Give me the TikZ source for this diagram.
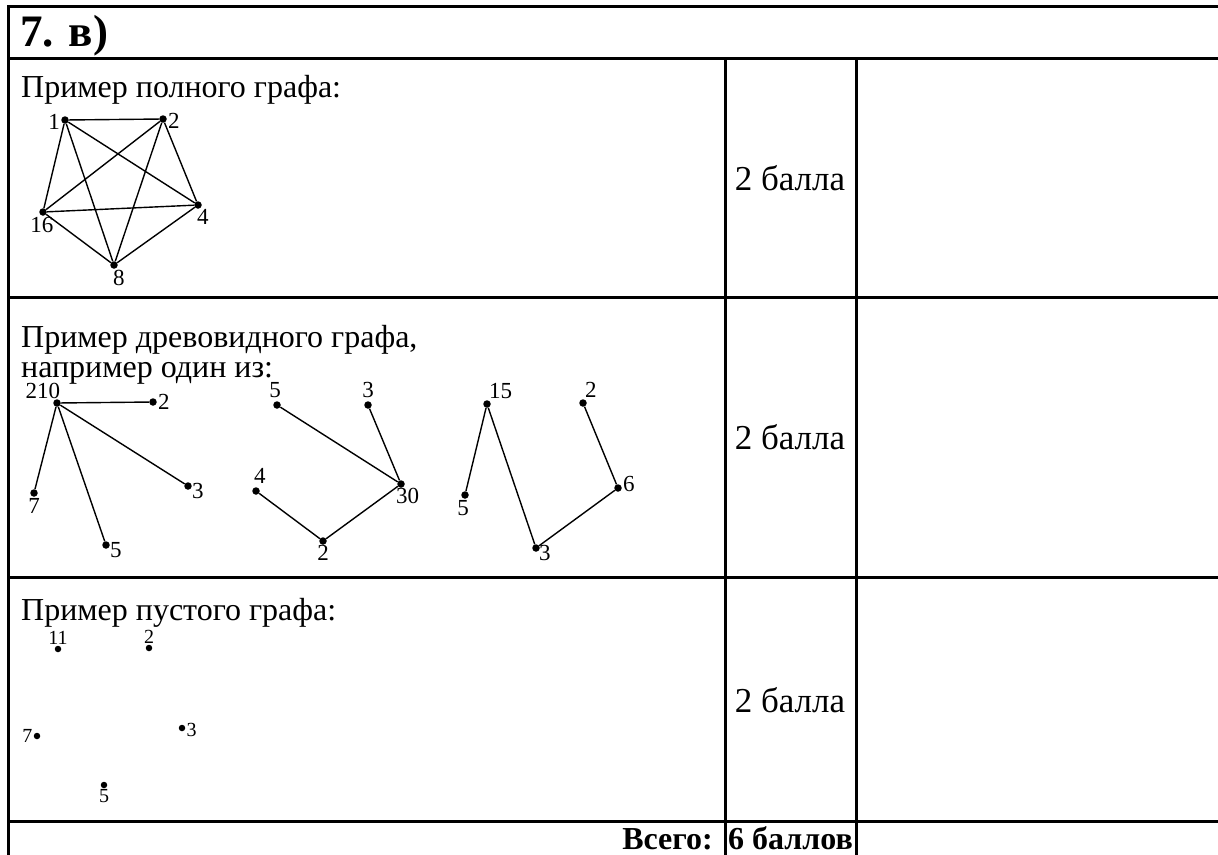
\documentclass[tikz,border=0pt]{standalone}
\usepackage{fontspec}
\setmainfont{Liberation Serif}
\begin{document}
\begin{tikzpicture}[x=1pt,y=-1pt,
  grid/.style={line width=3pt,line cap=rect},
  edge/.style={line width=1.4pt},
  vtx/.style={circle,fill=black,inner sep=0pt,minimum size=7.5pt},
  lbl/.style={font=\fontsize{23}{23}\selectfont,inner sep=1pt},
  slbl/.style={font=\fontsize{20}{20}\selectfont,inner sep=0pt},
  txt/.style={font=\fontsize{32}{32}\selectfont,anchor=base west,inner sep=0pt},
  pts/.style={font=\fontsize{35}{35}\selectfont,anchor=base,inner sep=0pt},
  btxt/.style={font=\fontsize{32}{32}\selectfont\bfseries,anchor=base,inner sep=0pt}]
\useasboundingbox (0,0) rectangle (1218,854);
% table lines
\draw[grid] (8,6) -- (1222,6);
\draw[grid] (8,58) -- (1222,58);
\draw[grid] (8,297) -- (1222,297);
\draw[grid] (8,577) -- (1222,577);
\draw[grid] (8,821) -- (1222,821);
\draw[grid] (8,6) -- (8,858);
\draw[grid] (725,58) -- (725,858);
\draw[grid] (856,58) -- (856,858);
% header
\node[txt,font=\fontsize{45}{45}\selectfont\bfseries] (hdr) at (20,46) {7. в)};
% row 1
\node[txt] (t1) at (21,97) {Пример полного графа:};
\node[pts] (p1) at (790,190) {2 балла};
\node[vtx] (a1) at (65,120) {};
\node[vtx] (a2) at (163,119) {};
\node[vtx] (a4) at (198,205) {};
\node[vtx] (a16) at (43,212) {};
\node[vtx] (a8) at (114,265) {};
\node[lbl,anchor=east] at ([yshift=-2pt]a1.west) {1};
\node[lbl,anchor=west] at ([yshift=-2pt]a2.east) {2};
\node[lbl,anchor=north west] at ([xshift=-2pt,yshift=1pt]a4.south) {4};
\node[lbl,anchor=north] at ([xshift=-1pt]a16.south) {16};
\node[lbl,anchor=north west] at ([xshift=-2pt]a8.south) {8};
\draw[edge] (a1) -- (a2) (a1) -- (a4) (a1) -- (a16) (a1) -- (a8)
  (a2) -- (a16) (a2) -- (a8) (a2) -- (a4)
  (a16) -- (a4) (a16) -- (a8) (a8) -- (a4);
% row 2
\node[txt] (t2) at (21,347) {Пример древовидного графа,};
\node[txt] (t3) at (21,377) {например один из:};
\node[pts] (p2) at (790,449) {2 балла};
% tree 1
\node[vtx] (b210) at (57,403) {};
\node[vtx] (b2) at (153,402) {};
\node[vtx] (b3) at (188,486) {};
\node[vtx] (b7) at (34,493) {};
\node[vtx] (b5) at (106,545) {};
\node[lbl,anchor=south east,inner sep=0pt] at ([xshift=6pt,yshift=1pt]b210.north west) {210};
\node[lbl,anchor=west] at (b2.east) {2};
\node[lbl,anchor=north west] at ([xshift=-1pt,yshift=4pt]b3.east) {3};
\node[lbl,anchor=north] at (b7.south) {7};
\node[lbl,anchor=north west] at ([xshift=-1pt,yshift=4pt]b5.east) {5};
\draw[edge] (b210) -- (b2) (b210) -- (b3) (b210) -- (b7) (b210) -- (b5);
% tree 2
\node[vtx] (c5) at (277,405) {};
\node[vtx] (c3) at (368,405) {};
\node[vtx] (c30) at (401,484) {};
\node[vtx] (c4) at (256,491) {};
\node[vtx] (c2) at (323,541) {};
\node[lbl,anchor=south] at ([xshift=-2pt,yshift=2pt]c5.north) {5};
\node[lbl,anchor=south] at ([yshift=2pt]c3.north) {3};
\node[lbl,anchor=north west] at ([xshift=-6pt,yshift=1pt]c30.south) {30};
\node[lbl,anchor=south west] at ([xshift=-3pt,yshift=2pt]c4.north) {4};
\node[lbl,anchor=north] at ([yshift=1pt]c2.south) {2};
\draw[edge] (c5) -- (c30) (c3) -- (c30) (c30) -- (c2) (c2) -- (c4);
% tree 3
\node[vtx] (d15) at (487,404) {};
\node[vtx] (d5) at (465,495) {};
\node[vtx] (d3) at (536,548) {};
\node[vtx] (d6) at (618,488) {};
\node[vtx] (d2) at (583,403) {};
\node[lbl,anchor=south west] at ([xshift=-3pt,yshift=4pt]d15.east) {15};
\node[lbl,anchor=north] at ([xshift=-2pt]d5.south) {5};
\node[lbl,anchor=north west] at ([xshift=-2pt,yshift=4pt]d3.east) {3};
\node[lbl,anchor=west] at ([yshift=4pt]d6.east) {6};
\node[lbl,anchor=south west] at ([xshift=-3pt,yshift=4pt]d2.east) {2};
\draw[edge] (d15) -- (d5) (d15) -- (d3) (d3) -- (d6) (d6) -- (d2);
% row 3
\node[txt] (t4) at (21,620) {Пример пустого графа:};
\node[pts] (p3) at (790,712) {2 балла};
\node[vtx,minimum size=6.5pt] (e11) at (58,649) {};
\node[vtx,minimum size=6.5pt] (e2) at (149,648) {};
\node[vtx,minimum size=6.5pt] (e7) at (37,736) {};
\node[vtx,minimum size=6.5pt] (e3) at (182,728) {};
\node[vtx,minimum size=6.5pt] (e5) at (104,785) {};
\node[slbl,anchor=south] at ([yshift=1pt]e11.north) {11};
\node[slbl,anchor=south] at ([yshift=1pt]e2.north) {2};
\node[slbl,anchor=east] at ([xshift=-1pt]e7.west) {7};
\node[slbl,anchor=west] at ([xshift=1pt,yshift=-2pt]e3.east) {3};
\node[slbl,anchor=north] at ([yshift=-1pt]e5.south) {5};
% total row
\node[btxt,anchor=base east] (tot) at (713,849) {Всего:};
\node[btxt,anchor=base west] (sum) at (728,849) {6 баллов};
\end{tikzpicture}
\end{document}
